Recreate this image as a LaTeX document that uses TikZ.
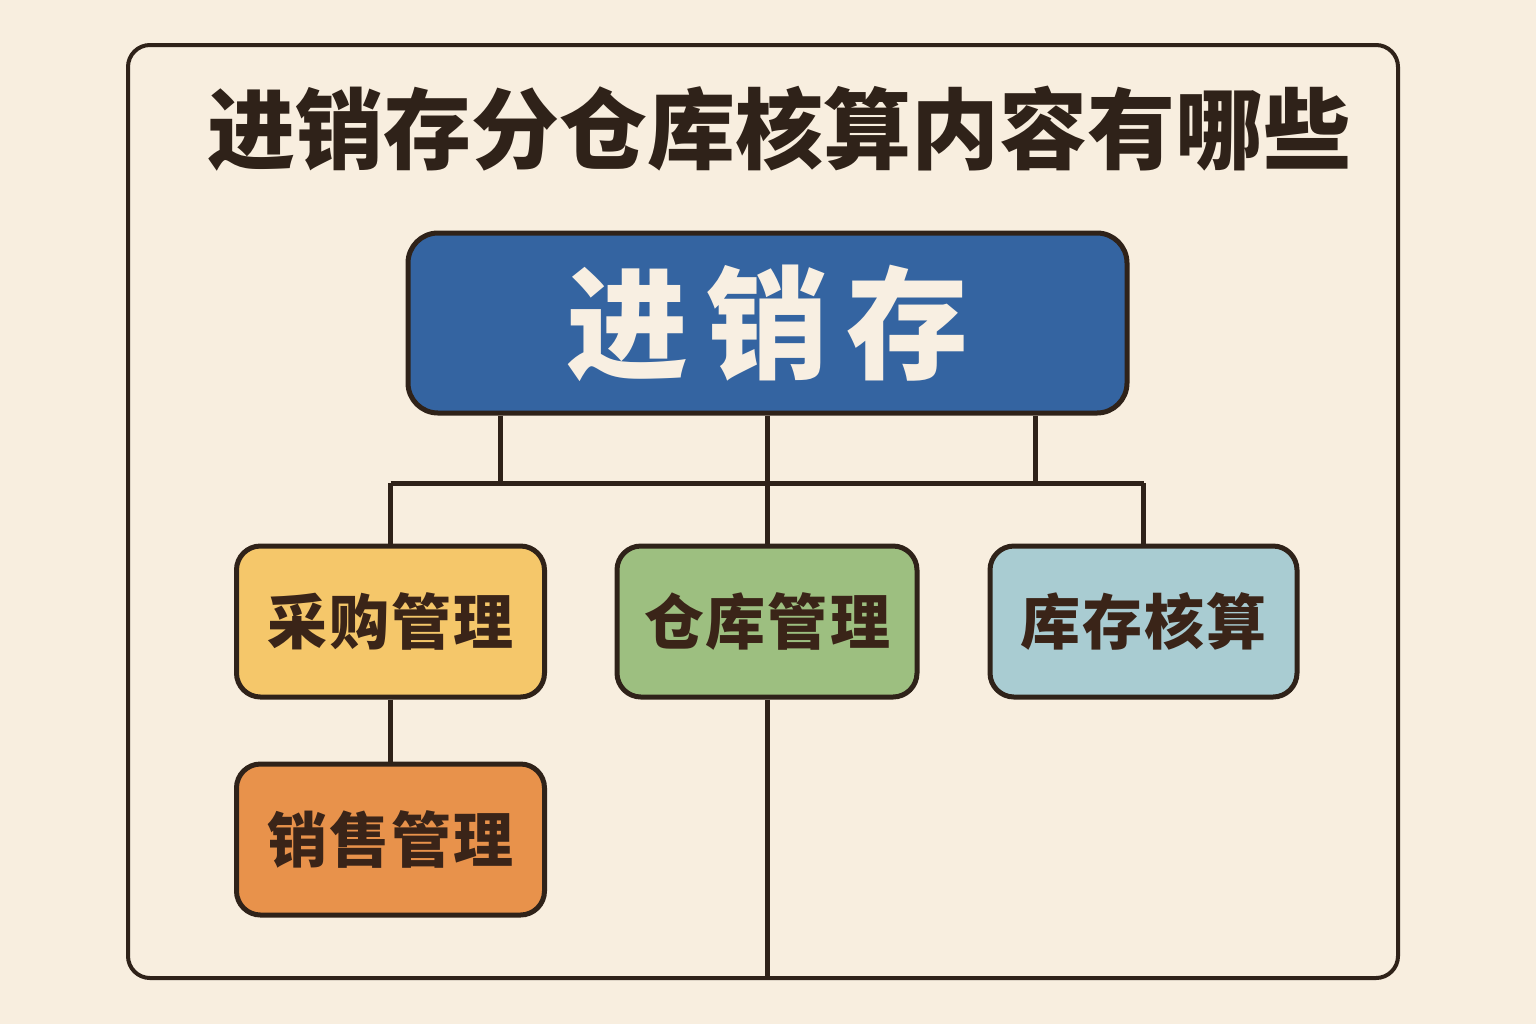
\documentclass[tikz,border=0pt]{standalone}
\usepackage{fontspec}
\newfontfamily\cjk{Noto Sans CJK SC}
\usetikzlibrary{positioning}

\definecolor{paper}{HTML}{F8EEDF}
\definecolor{ink}{HTML}{2F2219}
\definecolor{labelink}{HTML}{3A2418}
\definecolor{topblue}{HTML}{3464A1}
\definecolor{buyyellow}{HTML}{F5C76A}
\definecolor{storegreen}{HTML}{9DBF80}
\definecolor{acctblue}{HTML}{A9CCD2}
\definecolor{saleorange}{HTML}{E8924B}
\definecolor{lighttext}{HTML}{F8EFE2}

\tikzset{
  framebox/.style={draw=ink,line width=2pt,rounded corners=11pt,
                   minimum width=635pt,minimum height=466.5pt},
  topbox/.style={draw=ink,line width=2.5pt,rounded corners=15pt,fill=topblue,
                 minimum width=359.5pt,minimum height=90pt,text=lighttext,
                 font=\cjk\bfseries\fontsize{61}{61}\selectfont},
  subbox/.style={draw=ink,line width=2.5pt,rounded corners=12pt,
                 minimum width=154pt,minimum height=75.5pt,text=labelink,
                 font=\cjk\bfseries\fontsize{30}{30}\selectfont},
  link/.style={draw=ink,line width=2.5pt}
}

\begin{document}
\begin{tikzpicture}[x=0.5pt,y=-0.5pt]

  \pgfmathsetmacro\busy{483}   % level of the horizontal bus
  \pgfmathsetmacro\suby{621.5} % level of the first row of boxes

  \useasboundingbox[fill=paper] (0,0) rectangle (1536,1024);

% frame and title
  \node[framebox] (frame) at (763,511.5) {};
  \node[text=ink,font=\cjk\bfseries\fontsize{44}{44}\selectfont] (title) at (779,129)
    {进销存分仓库核算内容有哪些};

% boxes
  \node[topbox] (top) at (767.5,323) {进\kern9pt 销\kern9pt 存};
  \node[subbox,fill=buyyellow] (buy) at (390.5,\suby) {采\kern1pt 购\kern1pt 管\kern1pt 理};
  \node[subbox,fill=storegreen,minimum width=150pt] (store) at (767,\suby) {仓\kern1pt 库\kern1pt 管\kern1pt 理};
  \node[subbox,fill=acctblue,minimum width=153.5pt] (acct) at (1143.5,\suby) {库\kern1pt 存\kern1pt 核\kern1pt 算};
  \node[subbox,fill=saleorange] (sale) at (390.5,839.5) {销\kern1pt 售\kern1pt 管\kern1pt 理};

% bus
  \coordinate (busl) at (500,\busy);
  \coordinate (busm) at (767,\busy);
  \coordinate (busr) at (1035,\busy);
  \draw[link] (busl |- top.south) -- (busl);
  \draw[link] (busm |- top.south) -- (busm);
  \draw[link] (busr |- top.south) -- (busr);
  \draw[link] (buy.north |- busm) -- (acct.north |- busm);

% drops
  \draw[link] (buy.north |- busm) -- (buy.north);
  \draw[link] (store.north |- busm) -- (store.north);
  \draw[link] (acct.north |- busm) -- (acct.north);
  \draw[link] (buy.south) -- (sale.north);
  \draw[link] (store.south) -- (store.south |- frame.south);

\end{tikzpicture}
\end{document}
